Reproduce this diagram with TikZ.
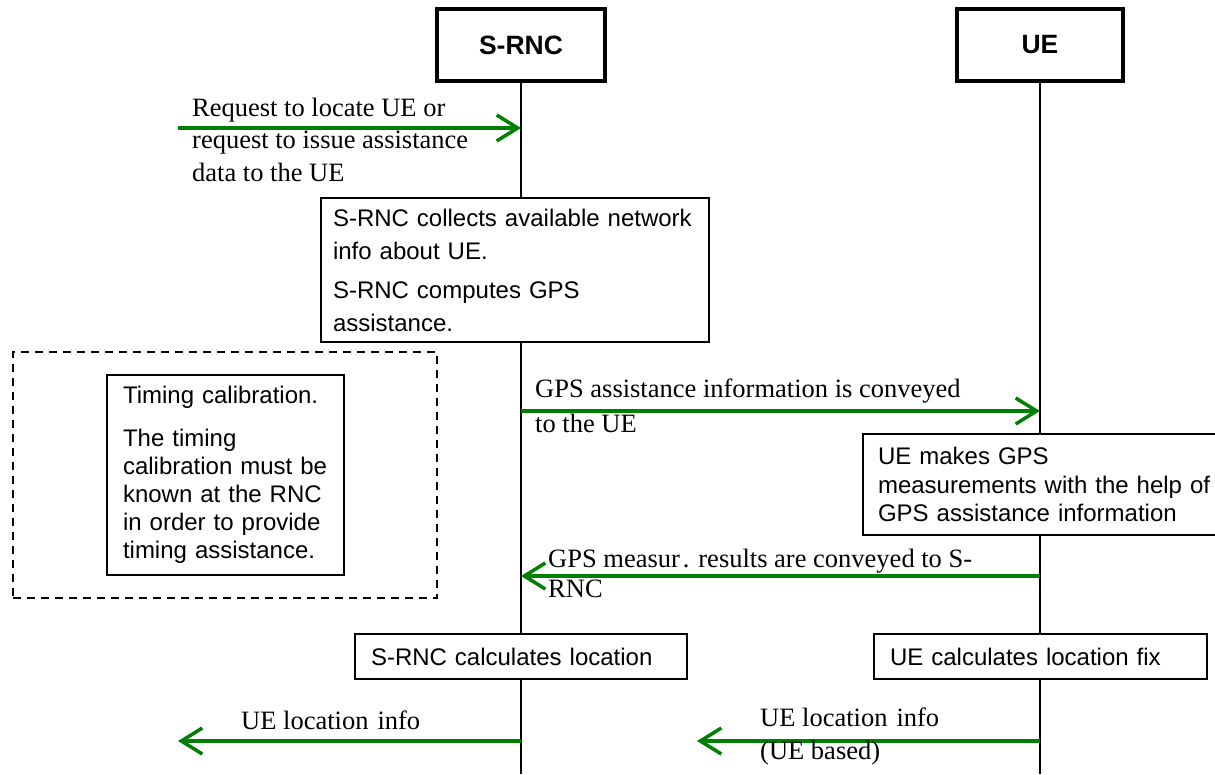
\documentclass[tikz,border=0pt]{standalone}
\usepackage{fontspec}
\setmainfont{Liberation Serif}
\setsansfont{Liberation Sans}
\usetikzlibrary{arrows.meta}
\definecolor{msggreen}{RGB}{0,128,0}
\begin{document}
\begin{tikzpicture}[x=1pt,y=-1pt,
  lifeline/.style={line width=1.4pt},
  headbox/.style={draw, fill=white, line width=3.5pt, minimum height=72pt, inner sep=0pt,
    font=\sffamily\bfseries\fontsize{26.5}{30}\selectfont},
  notebox/.style={draw, fill=white, line width=1.3pt, align=left, inner ysep=0pt,
    font=\sffamily\fontsize{24}{28.5}\selectfont},
  dashbox/.style={draw, dashed, dash pattern=on 8pt off 6pt, line width=2.4pt, inner sep=0pt},
  msg/.style={draw=msggreen, line width=3.5pt, -{Straight Barb[length=21pt,width=26pt]}},
  msglabel/.style={anchor=west, align=left, inner sep=0pt},
]
\useasboundingbox (0,0) rectangle (1215,774);
\clip (0,0) rectangle (1215,774);

% participants and lifelines
\node[headbox, minimum width=168pt] (srnc) at (521,45) {S-RNC};
\node[headbox, minimum width=166pt] (ue) at (1040,45) {UE};
\coordinate (srncEnd) at (521,774);
\coordinate (ueEnd) at (1040,774);
\draw[lifeline] (srnc.south) -- (srncEnd);
\draw[lifeline] (ue.south) -- (ueEnd);

% request arrow
\coordinate (a1s) at (178,128);
\coordinate (a1e) at (521,128);
\draw[msg] (a1s) -- (a1e);
\node[msglabel, font=\fontsize{26.5}{32.5}\selectfont] (l1) at (192,139.5)
  {Request to locate UE or\\ request to issue assistance\\ data to the UE};

% S-RNC collects box
\node[notebox, text width=364pt, inner xsep=12pt, minimum width=388pt, minimum height=144pt,
  font=\sffamily\fontsize{24}{33}\selectfont] (collect) at (515,270)
  {S-RNC collects available network\\ info about UE.\\[6pt] S-RNC computes GPS\\ assistance.};

% dashed calibration frame
\node[dashbox, minimum width=424pt, minimum height=246pt] (calib) at (225,475) {};
\node[notebox, text width=205pt, inner xsep=16pt, minimum width=237pt, minimum height=200pt,
  font=\sffamily\fontsize{24}{28}\selectfont] (timing) at (225.5,475)
  {Timing calibration.\\[15pt] The timing\\ calibration must be\\ known at the RNC\\ in order to provide\\ timing assistance.};

% GPS assistance arrow
\coordinate (a2s) at (521,411);
\coordinate (a2e) at (1040,411);
\draw[msg] (a2s) -- (a2e);
\node[msglabel, font=\fontsize{26.5}{35}\selectfont] (l2) at (535,405.5)
  {GPS assistance information is conveyed\\ to the UE};

% UE makes GPS box
\node[notebox, text width=340pt, inner xsep=15pt, minimum width=370pt, minimum height=101pt] (uemeas) at (1048,484.5)
  {UE makes GPS\\ measurements with the help of\\ GPS assistance information};

% GPS measurement results arrow
\coordinate (a3s) at (1040,576);
\coordinate (a3e) at (521,576);
\draw[msg] (a3s) -- (a3e);
\node[msglabel, font=\fontsize{26.5}{30}\selectfont] (l3) at (548,573)
  {GPS measur\kern3pt. results are conveyed to S-\\ RNC};

% calculation boxes
\node[notebox, text width=300pt, inner xsep=16pt, minimum width=332pt, minimum height=45pt] (srnccalc) at (521,656.5)
  {S-RNC calculates location};
\node[notebox, text width=301pt, inner xsep=16pt, minimum width=333pt, minimum height=45pt] (uecalc) at (1040.5,656.5)
  {UE calculates location fix};

% location info arrows
\coordinate (a4s) at (521,741);
\coordinate (a4e) at (178,741);
\draw[msg] (a4s) -- (a4e);
\node[msglabel, font=\fontsize{26.5}{32}\selectfont] (l4) at (241,720) {UE location\hspace{9pt}info};

\coordinate (a5s) at (1040,741);
\coordinate (a5e) at (697,741);
\draw[msg] (a5s) -- (a5e);
\node[msglabel, font=\fontsize{26.5}{33}\selectfont] (l5) at (760,736.5)
  {UE location\hspace{9pt}info\\ (UE based)};
\end{tikzpicture}
\end{document}
